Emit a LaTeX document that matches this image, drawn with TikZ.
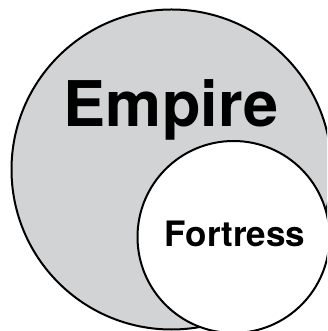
\documentclass[tikz,border=0pt]{standalone}
\usepackage{fontspec}
\setmainfont{TeX Gyre Heros}
\definecolor{empgray}{RGB}{209,211,212}
\begin{document}
\begin{tikzpicture}[x=1pt,y=1pt,
  ring/.style={draw=black,line width=2pt},
  lbl/.style={anchor=base,inner sep=0pt,font=\bfseries}]
\useasboundingbox (0,0) rectangle (327,331);
\clip (0,0) rectangle (327,331);
\node[ring,circle,fill=empgray,minimum size=320pt,inner sep=0pt] (empire) at (171.5,161.5) {};
\node[ring,circle,fill=white,minimum size=192pt,inner sep=0pt] (fortress) at (233.5,94) {};
\node[lbl,font=\bfseries\fontsize{63}{63}\selectfont] (empiretxt) at (171,204) {Empire};
\node[lbl,font=\bfseries\fontsize{35}{35}\selectfont] (fortresstxt) at (235,84) {Fortress};
\end{tikzpicture}
\end{document}
